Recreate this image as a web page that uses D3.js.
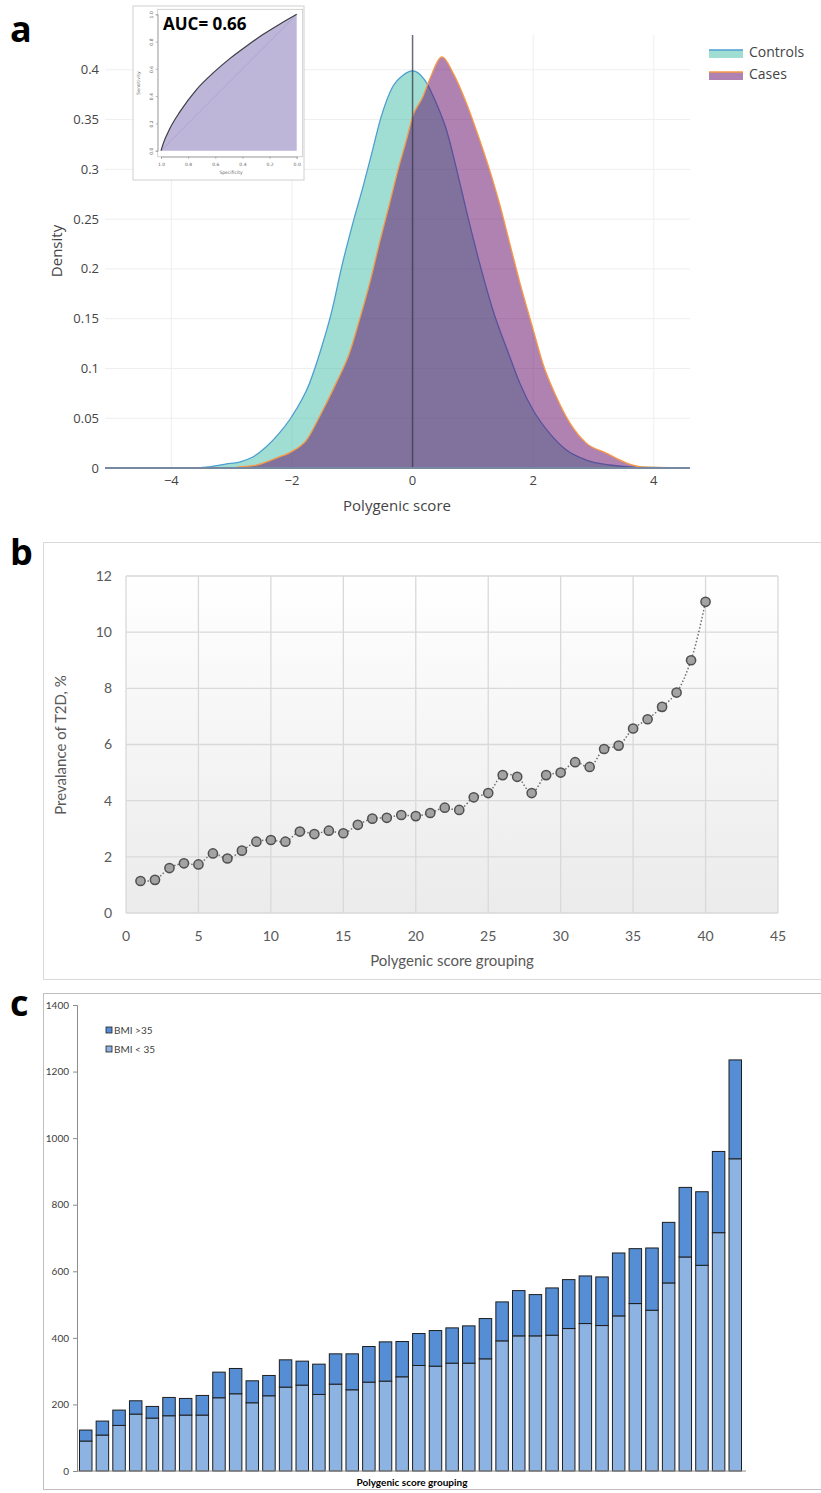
<!doctype html>
<html lang="en">
<head>
    <meta charset="utf-8">
    <title>Polygenic score figure</title>
    <style>
        body { margin: 0; background: #fff; }
        svg { display: block; }
    </style>
</head>
<body>
    <div id="chart"></div>

    <script src="https://cdnjs.cloudflare.com/ajax/libs/d3/7.8.5/d3.min.js"></script>
    <script>
        // ---- panel a: density curves ----
        const controlsX = [-5.1, -3.6, -3.4, -3.1, -2.87, -2.65, -2.43, -2.21, -2.0, -1.71, -1.52, -1.35, -1.16, -0.99, -0.82, -0.69, -0.52, -0.33, -0.15, 0, 0.2, 0.39, 0.56, 0.73, 0.89, 1.11, 1.33, 1.61, 1.78, 2.0, 2.27, 2.55, 2.88, 3.27, 3.6, 4.6];
        const controlsY = [0, 0, 0.001, 0.004, 0.006, 0.011, 0.021, 0.035, 0.052, 0.085, 0.119, 0.155, 0.206, 0.246, 0.283, 0.313, 0.353, 0.383, 0.395, 0.399, 0.39, 0.367, 0.34, 0.30, 0.259, 0.206, 0.159, 0.112, 0.085, 0.058, 0.035, 0.018, 0.008, 0.003, 0.001, 0];
        const casesX = [-5.1, -3.0, -2.87, -2.59, -2.26, -1.99, -1.76, -1.54, -1.27, -1.05, -0.88, -0.71, -0.55, -0.38, -0.24, -0.1, 0, 0.17, 0.28, 0.49, 0.67, 0.89, 1.11, 1.33, 1.44, 1.61, 1.78, 2.0, 2.16, 2.38, 2.61, 2.88, 3.21, 3.55, 3.82, 4.6];
        const casesY = [0, 0, 0.001, 0.003, 0.010, 0.017, 0.028, 0.052, 0.085, 0.115, 0.149, 0.186, 0.226, 0.266, 0.30, 0.33, 0.353, 0.373, 0.39, 0.413, 0.397, 0.367, 0.33, 0.289, 0.266, 0.226, 0.186, 0.139, 0.105, 0.072, 0.045, 0.025, 0.015, 0.005, 0.001, 0];
        const densityXTicks = [-4, -2, 0, 2, 4];
        const densityYTicks = [0, 0.05, 0.1, 0.15, 0.2, 0.25, 0.3, 0.35, 0.4];

        // inset ROC curve
        const rocSpec = [1, 0.983, 0.934, 0.860, 0.737, 0.614, 0.491, 0.369, 0.246, 0.123, 0];
        const rocSens = [0, 0.054, 0.164, 0.286, 0.450, 0.572, 0.677, 0.768, 0.853, 0.929, 1];
        const rocTicks = [0, 0.2, 0.4, 0.6, 0.8, 1.0];

        // ---- panel b: prevalence by group ----
        const groups = [1, 2, 3, 4, 5, 6, 7, 8, 9, 10, 11, 12, 13, 14, 15, 16, 17, 18, 19, 20,
            21, 22, 23, 24, 25, 26, 27, 28, 29, 30, 31, 32, 33, 34, 35, 36, 37, 38, 39, 40];
        const prevalence = [1.14, 1.18, 1.60, 1.77, 1.73, 2.12, 1.94, 2.22, 2.54, 2.60, 2.54, 2.90, 2.81, 2.93, 2.84, 3.14, 3.36, 3.39, 3.49, 3.45,
            3.56, 3.75, 3.67, 4.12, 4.27, 4.91, 4.85, 4.27, 4.91, 5.00, 5.37, 5.20, 5.84, 5.96, 6.57, 6.90, 7.34, 7.85, 9.00, 11.08];
        const prevXTicks = [0, 5, 10, 15, 20, 25, 30, 35, 40, 45];
        const prevYTicks = [0, 2, 4, 6, 8, 10, 12];

        // ---- panel c: counts by BMI ----
        const bmiLow = [90, 108, 137, 171, 159, 166, 168, 168, 220, 232, 205, 226, 252, 258, 230, 261, 244, 267, 270, 283,
            317, 315, 324, 324, 337, 391, 406, 406, 408, 428, 443, 437, 466, 503, 483, 565, 643, 618, 716, 938];
        const bmiHigh = [33, 42, 46, 40, 35, 55, 50, 59, 77, 76, 66, 61, 82, 72, 91, 91, 108, 107, 118, 106,
            96, 107, 106, 112, 121, 117, 136, 124, 142, 147, 143, 146, 189, 165, 187, 182, 209, 221, 244, 297];
        const countTicks = [0, 200, 400, 600, 800, 1000, 1200, 1400];

        const width = 821;
        const height = 1493;
        const svg = d3.select("#chart").append("svg").attr("width", width).attr("height", height)
            .style("background", "#fff");

        // panel letters
        [["a", 10, 42], ["b", 10, 565], ["c", 10, 1016]].forEach(([t, x, y]) => {
            svg.append("text").attr("x", x).attr("y", y).text(t)
                .attr("font-family", "Open Sans").attr("font-weight", "bold").attr("font-size", 36).attr("fill", "#000");
        });

        drawDensity();
        drawInset();
        drawPrevalence();
        drawBars();

        function drawDensity() {
            const g = svg.append("g").attr("font-family", "Open Sans");
            const x = d3.scaleLinear().domain([-5.1, 4.6]).range([105, 690]);
            const y = d3.scaleLinear().domain([0, 0.435]).range([468, 35]);

            // grid
            g.selectAll("line.vgrid").data(densityXTicks.filter(d => d !== 0)).join("line")
                .attr("x1", d => x(d)).attr("x2", d => x(d)).attr("y1", y(0.435)).attr("y2", y(0))
                .attr("stroke", "#eee").attr("stroke-width", 1);
            g.selectAll("line.hgrid").data(densityYTicks.filter(d => d !== 0)).join("line")
                .attr("x1", 105).attr("x2", 690).attr("y1", d => y(d)).attr("y2", d => y(d))
                .attr("stroke", "#eee").attr("stroke-width", 1);

            const controls = controlsX.map((v, i) => [v, controlsY[i]]);
            const cases = casesX.map((v, i) => [v, casesY[i]]);
            const area = d3.area().x(d => x(d[0])).y0(y(0)).y1(d => y(d[1])).curve(d3.curveMonotoneX);
            const line = d3.line().x(d => x(d[0])).y(d => y(d[1])).curve(d3.curveMonotoneX);

            g.append("path").datum(controls).attr("d", area).attr("fill", "rgba(65,189,169,0.5)");
            g.append("path").datum(controls).attr("d", line).attr("fill", "none")
                .attr("stroke", "#4d9fd0").attr("stroke-width", 1.3);
            g.append("path").datum(cases).attr("d", area).attr("fill", "rgba(97,5,101,0.5)");
            g.append("path").datum(cases).attr("d", line).attr("fill", "none")
                .attr("stroke", "#f79a45").attr("stroke-width", 1.3);

            // zero lines
            g.append("line").attr("x1", x(0)).attr("x2", x(0)).attr("y1", y(0.435)).attr("y2", y(0))
                .attr("stroke", "#3a3a4a").attr("stroke-opacity", 0.75).attr("stroke-width", 1.5);
            g.append("line").attr("x1", 105).attr("x2", 690).attr("y1", y(0)).attr("y2", y(0))
                .attr("stroke", "#7789a0").attr("stroke-width", 2);

            // tick labels
            g.selectAll("text.ytick").data(densityYTicks).join("text")
                .attr("x", 99).attr("y", d => y(d)).attr("dy", "0.35em").attr("text-anchor", "end")
                .attr("font-size", 13).attr("fill", "#444").text(d => d);
            g.selectAll("text.xtick").data(densityXTicks).join("text")
                .attr("x", d => x(d)).attr("y", 485).attr("text-anchor", "middle")
                .attr("font-size", 13).attr("fill", "#444").text(d => d < 0 ? "\u2212" + Math.abs(d) : d);

            g.append("text").attr("x", 397).attr("y", 511).attr("text-anchor", "middle")
                .attr("font-size", 15).attr("fill", "#444").text("Polygenic score");
            g.append("text").attr("transform", "translate(62,251) rotate(-90)").attr("text-anchor", "middle")
                .attr("font-size", 15).attr("fill", "#444").text("Density");

            // legend
            const legend = [
                { name: "Controls", fill: "rgba(65,189,169,0.5)", line: "#4d9fd0", y: 50 },
                { name: "Cases", fill: "rgba(97,5,101,0.5)", line: "#f79a45", y: 72 }
            ];
            legend.forEach(l => {
                g.append("rect").attr("x", 709).attr("y", l.y).attr("width", 34).attr("height", 8).attr("fill", l.fill);
                g.append("line").attr("x1", 709).attr("x2", 743).attr("y1", l.y).attr("y2", l.y)
                    .attr("stroke", l.line).attr("stroke-width", 1.5);
                g.append("text").attr("x", 749).attr("y", l.y + 2).attr("dy", "0.35em")
                    .attr("font-size", 14).attr("fill", "#444").text(l.name);
            });
        }

        function drawInset() {
            const g = svg.append("g");
            g.append("rect").attr("x", 133).attr("y", 6).attr("width", 171).attr("height", 174)
                .attr("fill", "#fff").attr("stroke", "#d0d0d0").attr("stroke-width", 1);

            const x = d3.scaleLinear().domain([1, 0]).range([161, 296.7]);
            const y = d3.scaleLinear().domain([0, 1]).range([150.7, 14.3]);
            const pts = rocSpec.map((s, i) => [s, rocSens[i]]);

            g.append("rect").attr("x", 157.7).attr("y", 9.3).attr("width", 145).attr("height", 147.4)
                .attr("fill", "none").attr("stroke", "#c8c8c8").attr("stroke-width", 0.8);
            g.append("path").datum(pts)
                .attr("d", d3.area().x(d => x(d[0])).y0(y(0)).y1(d => y(d[1])).curve(d3.curveMonotoneX))
                .attr("fill", "#bdb6d9");
            g.append("line").attr("x1", x(1)).attr("y1", y(0)).attr("x2", x(0)).attr("y2", y(1))
                .attr("stroke", "#a9a2cc").attr("stroke-width", 0.8);
            g.append("path").datum(pts)
                .attr("d", d3.line().x(d => x(d[0])).y(d => y(d[1])).curve(d3.curveMonotoneX))
                .attr("fill", "none").attr("stroke", "#3d3d46").attr("stroke-width", 1.2);

            const ax = g.append("g").attr("transform", "translate(0,156.7)")
                .call(d3.axisBottom(x).tickValues(rocTicks).tickSize(2).tickFormat(d3.format(".1f")));
            const ay = g.append("g").attr("transform", "translate(157.7,0)")
                .call(d3.axisLeft(y).tickValues(rocTicks).tickSize(2).tickFormat(d3.format(".1f")));
            [ax, ay].forEach(a => {
                a.select(".domain").attr("stroke", "#888").attr("stroke-width", 0.6);
                a.selectAll(".tick line").attr("stroke", "#888").attr("stroke-width", 0.6);
                a.selectAll("text").attr("font-size", 4.5).attr("fill", "#666").attr("font-family", "DejaVu Sans");
            });
            ax.selectAll("text").attr("dy", "0.9em");
            ay.selectAll("text").attr("transform", "rotate(-90)").attr("x", 0).attr("y", -5)
                .attr("dy", "0").attr("text-anchor", "middle");

            g.append("text").attr("x", 231).attr("y", 174).attr("text-anchor", "middle")
                .attr("font-size", 4.5).attr("fill", "#666").attr("font-family", "DejaVu Sans").text("Specificity");
            g.append("text").attr("transform", "translate(140,83) rotate(-90)").attr("text-anchor", "middle")
                .attr("font-size", 4.5).attr("fill", "#666").attr("font-family", "DejaVu Sans").text("Sensitivity");

            g.append("text").attr("x", 163).attr("y", 30).attr("font-family", "Open Sans").attr("font-weight", "bold")
                .attr("font-size", 17).attr("fill", "#000").text("AUC= 0.66");
        }

        function drawPrevalence() {
            const g = svg.append("g").attr("font-family", "Lato");
            g.append("rect").attr("x", 43.5).attr("y", 542.5).attr("width", 800).attr("height", 437)
                .attr("fill", "#fff").attr("stroke", "#d9d9d9");

            const x = d3.scaleLinear().domain([0, 45]).range([126, 778]);
            const y = d3.scaleLinear().domain([0, 12]).range([913, 576]);

            const grad = svg.append("defs").append("linearGradient").attr("id", "bgGrad")
                .attr("x1", 0).attr("y1", 0).attr("x2", 0).attr("y2", 1);
            grad.append("stop").attr("offset", "0%").attr("stop-color", "#ffffff");
            grad.append("stop").attr("offset", "100%").attr("stop-color", "#ebebeb");
            g.append("rect").attr("x", x(0)).attr("y", y(12)).attr("width", x(45) - x(0)).attr("height", y(0) - y(12))
                .attr("fill", "url(#bgGrad)");

            g.selectAll("line.vg").data(prevXTicks).join("line")
                .attr("x1", d => x(d)).attr("x2", d => x(d)).attr("y1", y(12)).attr("y2", y(0))
                .attr("stroke", "#d9d9d9").attr("stroke-width", 1.3);
            g.selectAll("line.hg").data(prevYTicks).join("line")
                .attr("x1", x(0)).attr("x2", x(45)).attr("y1", d => y(d)).attr("y2", d => y(d))
                .attr("stroke", "#d9d9d9").attr("stroke-width", 1.3);

            g.selectAll("text.yt").data(prevYTicks).join("text")
                .attr("x", 112).attr("y", d => y(d)).attr("dy", "0.35em").attr("text-anchor", "end")
                .attr("font-size", 14).attr("fill", "#595959").text(d => d);
            g.selectAll("text.xt").data(prevXTicks).join("text")
                .attr("x", d => x(d)).attr("y", 941).attr("text-anchor", "middle")
                .attr("font-size", 14).attr("fill", "#595959").text(d => d);

            g.append("text").attr("x", 452).attr("y", 966).attr("text-anchor", "middle")
                .attr("font-size", 15).attr("fill", "#595959").text("Polygenic score grouping");
            g.append("text").attr("transform", "translate(66,745) rotate(-90)").attr("text-anchor", "middle")
                .attr("font-size", 15).attr("fill", "#595959").text("Prevalance of T2D, %");

            const pts = groups.map((gr, i) => [gr, prevalence[i]]);
            g.append("path").datum(pts)
                .attr("d", d3.line().x(d => x(d[0])).y(d => y(d[1])).curve(d3.curveCatmullRom))
                .attr("fill", "none").attr("stroke", "#707070").attr("stroke-width", 1.5)
                .attr("stroke-dasharray", "1.5,2");
            g.selectAll("circle").data(pts).join("circle")
                .attr("cx", d => x(d[0])).attr("cy", d => y(d[1])).attr("r", 4.6)
                .attr("fill", "#a3a3a3").attr("stroke", "#505050").attr("stroke-width", 1.5);
        }

        function drawBars() {
            const g = svg.append("g").attr("font-family", "Lato");
            g.append("rect").attr("x", 43.5).attr("y", 993.5).attr("width", 800).attr("height", 496)
                .attr("fill", "#fff").attr("stroke", "#bfbfbf");

            const x = d3.scaleBand().domain(groups).range([77, 744]).paddingInner(0.25).paddingOuter(0.15);
            const y = d3.scaleLinear().domain([0, 1400]).range([1471, 1005]);

            const table = groups.map((gr, i) => ({ group: gr, low: bmiLow[i], high: bmiHigh[i] }));
            const series = d3.stack().keys(["low", "high"])(table);
            const colors = { low: "#8db3e2", high: "#558ed5" };

            g.selectAll("g.layer").data(series).join("g")
                .attr("fill", d => colors[d.key])
                .selectAll("rect").data(d => d).join("rect")
                .attr("x", d => x(d.data.group)).attr("width", x.bandwidth())
                .attr("y", d => y(d[1])).attr("height", d => y(d[0]) - y(d[1]))
                .attr("stroke", "#1e1e1e").attr("stroke-width", 1);

            const ay = g.append("g").attr("transform", "translate(77,0)")
                .call(d3.axisLeft(y).tickValues(countTicks).tickSize(4).tickFormat(d => d));
            ay.select(".domain").attr("stroke", "#8c8c8c");
            ay.selectAll(".tick line").attr("stroke", "#8c8c8c");
            ay.selectAll("text").attr("font-size", 10).attr("fill", "#404040").attr("font-family", "Lato").attr("x", -8);

            g.append("line").attr("x1", 77).attr("x2", 746).attr("y1", y(0)).attr("y2", y(0))
                .attr("stroke", "#8c8c8c").attr("stroke-width", 1);

            g.append("text").attr("x", 412).attr("y", 1486).attr("text-anchor", "middle")
                .attr("font-size", 10).attr("font-weight", "bold").attr("fill", "#000").text("Polygenic score grouping");

            const legend = [{ name: "BMI >35", key: "high", y: 1027 }, { name: "BMI < 35", key: "low", y: 1046 }];
            legend.forEach(l => {
                g.append("rect").attr("x", 106).attr("y", l.y).attr("width", 6).attr("height", 6)
                    .attr("fill", colors[l.key]).attr("stroke", "#1e1e1e").attr("stroke-width", 0.8);
                g.append("text").attr("x", 114).attr("y", l.y + 3).attr("dy", "0.35em")
                    .attr("font-size", 10).attr("fill", "#404040").text(l.name);
            });
        }
    </script>
</body>
</html>
